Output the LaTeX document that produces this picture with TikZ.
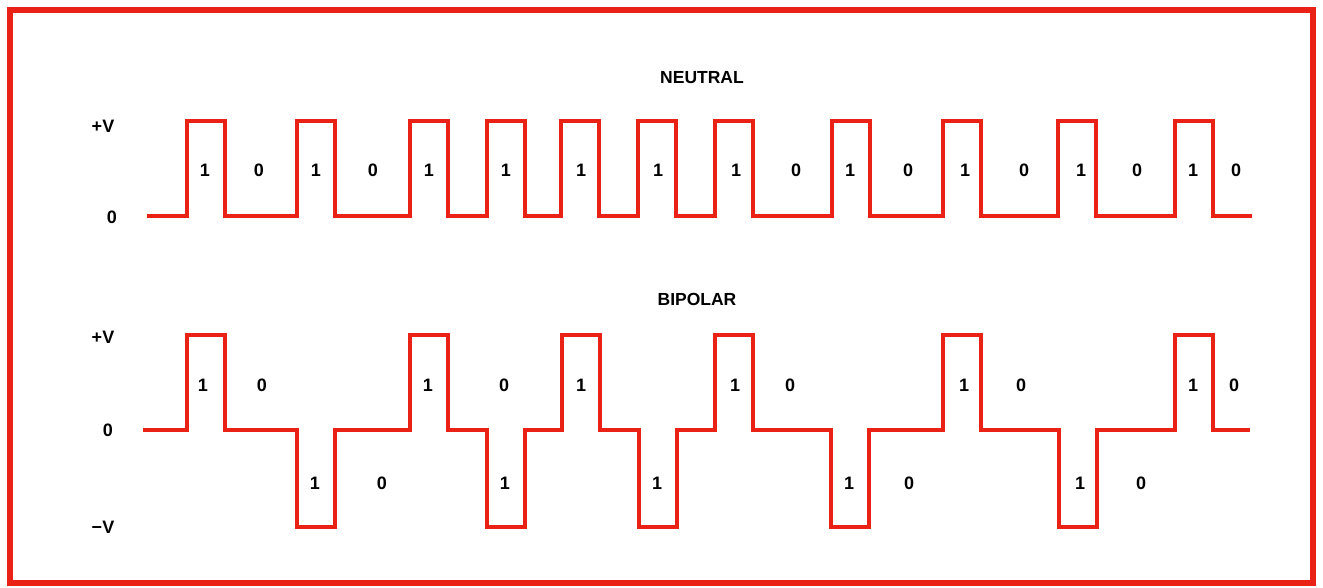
\documentclass[tikz,border=0pt]{standalone}
\usepackage{fontspec}
\setmainfont{Liberation Sans}
\usepackage{xcolor}
\usepackage{tikz}
\definecolor{waveRed}{RGB}{234,34,22}

\begin{document}
\begin{tikzpicture}[x=1pt, y=-1pt,
    wave/.style={draw=waveRed, line width=4pt, line join=miter},
    frame/.style={draw=waveRed, line width=6.5pt},
    bit/.style={font=\fontsize{18}{20}\selectfont\bfseries, inner sep=0pt, text=black},
    title/.style={font=\fontsize{17.5}{20}\selectfont\bfseries, inner sep=0pt, text=black}
]
\useasboundingbox (0,0) rectangle (1323,588);

% Outer frame
\draw[frame] (10,10) rectangle (1313,583);

% Titles
\node[title] (neutral) at (702,78) {NEUTRAL};
\node[title] (bipolar) at (697,299) {BIPOLAR};

% Level labels
\node[bit] (nPlus) at (103,126) {+V};
\node[bit] (nZero) at (112,217) {0};
\node[bit] (bPlus) at (103,337) {+V};
\node[bit] (bZero) at (108,430) {0};
\node[bit] (bMinus) at (103,527) {−V};

% Neutral waveform
\draw[wave] (147,216)
  \foreach \x in {187,297,410,487,561,638,715,832,943,1058,1175} {
    -- (\x,216) -- (\x,121) -- (\x+38,121) -- (\x+38,216)
  } -- (1252,216);

% Neutral bits
\foreach \x/\b [count=\i] in {205/1,259/0,316/1,373/0,429/1,506/1,581/1,658/1,736/1,
    796/0,850/1,908/0,965/1,1024/0,1081/1,1137/0,1193/1,1236/0}
  \node[bit] (nb\i) at (\x,170) {\b};

% Bipolar waveform
\draw[wave] (143,430)
  \foreach \x/\y in {187/335,297/527,410/335,487/527,562/335,639/527,
      715/335,831/527,943/335,1059/527,1175/335} {
    -- (\x,430) -- (\x,\y) -- (\x+38,\y) -- (\x+38,430)
  } -- (1250,430);

% Bipolar bits, upper row
\foreach \x/\b [count=\i] in {203/1,262/0,428/1,504/0,581/1,735/1,790/0,
    964/1,1021/0,1193/1,1234/0}
  \node[bit] (bu\i) at (\x,385) {\b};

% Bipolar bits, lower row
\foreach \x/\b [count=\i] in {315/1,382/0,505/1,657/1,849/1,909/0,1080/1,1141/0}
  \node[bit] (bl\i) at (\x,483) {\b};
\end{tikzpicture}
\end{document}
